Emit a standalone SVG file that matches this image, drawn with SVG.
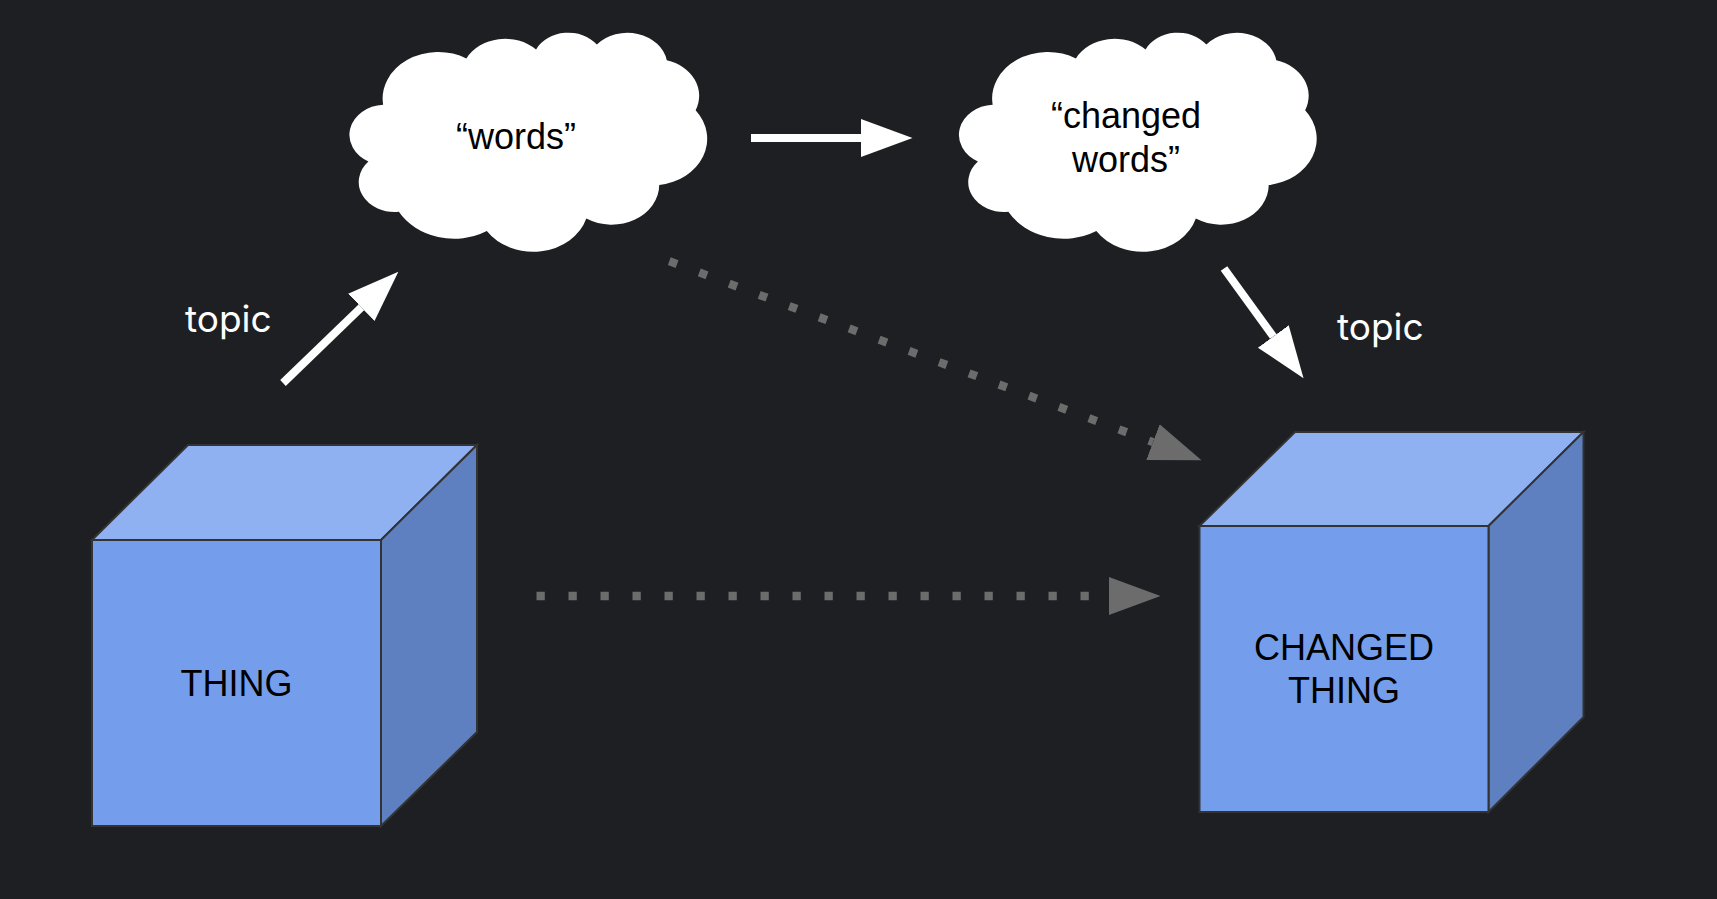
<svg xmlns="http://www.w3.org/2000/svg" xmlns:xlink="http://www.w3.org/1999/xlink" width="1717" height="899" viewBox="0 0 1717 899">
  <style>
    .bg { fill: #1d1f23; }
    .cloud-fill { fill: #ffffff; stroke: #3c3c3c; stroke-width: 1.8; vector-effect: non-scaling-stroke; }
    .cloud-arc { fill: none; stroke: #3c3c3c; stroke-width: 1.8; vector-effect: non-scaling-stroke; }
    .front { fill: #749eeb; stroke: #333333; stroke-width: 2; stroke-linejoin: miter; }
    .top { fill: #8fb1f1; stroke: #333333; stroke-width: 2; stroke-linejoin: miter; }
    .side { fill: #5e80c0; stroke: #333333; stroke-width: 2; stroke-linejoin: miter; }
    .label { font-family: "Liberation Sans", Arial, sans-serif; font-size: 36px; fill: #000000; text-anchor: middle; }
    .topic { font-family: Inter, "Noto Sans", sans-serif; font-size: 37px; fill: #ffffff; }
    .white-arrow { stroke: #ffffff; stroke-width: 8; fill: none; stroke-linecap: butt; }
    .dots { stroke: #6c6c6c; stroke-width: 8.3; fill: none; stroke-dasharray: 8.3 23.7; }
  </style>
  <defs>
    <path id="cloudOutline" d="M3900,14370 A6753,9190 0 0 1 14006,5203 A5333,7267 0 0 1 22457,3432 A4365,5945 0 0 1 29834,2480 A4857,6595 0 0 1 38320,5575 A5333,7273 0 0 1 41820,15459 A6775,9220 0 0 1 37406,30203 A5785,7867 0 0 1 28558,36813 A6752,9215 0 0 1 16483,39265 A7720,10543 0 0 1 5808,35475 A4360,5918 0 0 1 2115,25555 A4345,5945 0 0 1 3900,14370 Z"/>
    <path id="cloudArcs" d="M4693,26177 A4345,5945 0 0 1 2160,25380 M6928,34899 A4360,5918 0 0 1 5819,35281 M16478,39090 A6752,9215 0 0 1 15810,37349 M28827,34751 A6752,9215 0 0 1 28560,36660 M34129,22954 A5785,7867 0 0 1 37380,30089 M41798,15354 A5333,7273 0 0 1 40350,18030 M38324,5426 A4857,6595 0 0 1 38400,6690 M29078,3952 A4857,6595 0 0 1 29820,2340 M22141,4720 A4365,5945 0 0 1 22500,3331 M14000,5192 A6753,9190 0 0 1 15299,6539 M4127,15789 A6753,9190 0 0 1 3900,14370"/>
    <marker id="headWhite" markerUnits="userSpaceOnUse" markerWidth="56" markerHeight="42" viewBox="0 -21 56 42" refX="0" refY="0" orient="auto">
      <path d="M0,-19 L51.5,0 L0,19 Z" fill="#ffffff"/>
    </marker>
    <marker id="headGray" markerUnits="userSpaceOnUse" markerWidth="56" markerHeight="42" viewBox="0 -21 56 42" refX="0" refY="0" orient="auto">
      <path d="M0,-19 L51.8,0 L0,19 Z" fill="#6c6c6c"/>
    </marker>
  </defs>

  <rect class="bg" x="0" y="0" width="1717" height="899"/>

  <g id="connectors">
    <line id="c-thing-words" class="white-arrow" x1="283" y1="383" x2="361.3" y2="307.4" marker-end="url(#headWhite)"/>
    <line id="c-words-changed" class="white-arrow" x1="751" y1="138" x2="861" y2="138" marker-end="url(#headWhite)"/>
    <line id="c-changed-thing" class="white-arrow" x1="1224" y1="268.5" x2="1273.3" y2="336.5" marker-end="url(#headWhite)"/>
    <line id="c-words-changedthing" class="dots" x1="669.3" y1="261.2" x2="1153" y2="442.1" marker-end="url(#headGray)"/>
    <line id="c-thing-changedthing" class="dots" x1="536.5" y1="596" x2="1108.7" y2="596" marker-end="url(#headGray)"/>
    <text class="topic" x="185" y="332">topic</text>
    <text class="topic" x="1337" y="340">topic</text>
  </g>

  <g id="words">
    <g transform="translate(351,32) scale(0.0082407,0.0050694)">
      <use xlink:href="#cloudOutline" href="#cloudOutline" class="cloud-fill"/>
      <use xlink:href="#cloudArcs" href="#cloudArcs" class="cloud-arc"/>
    </g>
    <text class="label" x="516" y="149">“words”</text>
  </g>

  <g id="changed-words">
    <g transform="translate(960.5,32) scale(0.0082407,0.0050694)">
      <use xlink:href="#cloudOutline" href="#cloudOutline" class="cloud-fill"/>
      <use xlink:href="#cloudArcs" href="#cloudArcs" class="cloud-arc"/>
    </g>
    <text class="label" x="1126" y="127.5">“changed</text>
    <text class="label" x="1126" y="171.8">words”</text>
  </g>

  <g id="thing">
    <polygon class="top" points="92,540 188,445 477,445 381,540"/>
    <polygon class="side" points="381,540 477,445 477,732 381,826"/>
    <rect class="front" x="92" y="540" width="289" height="286"/>
    <text class="label" x="236.5" y="696">THING</text>
  </g>

  <g id="changed-thing">
    <polygon class="top" points="1199.5,526 1295,432 1583.5,432 1488.5,526"/>
    <polygon class="side" points="1488.5,526 1583.5,432 1583.5,717 1488.5,812"/>
    <rect class="front" x="1199.5" y="526" width="289" height="286"/>
    <text class="label" x="1344" y="659.5">CHANGED</text>
    <text class="label" x="1344" y="703">THING</text>
  </g>
</svg>
